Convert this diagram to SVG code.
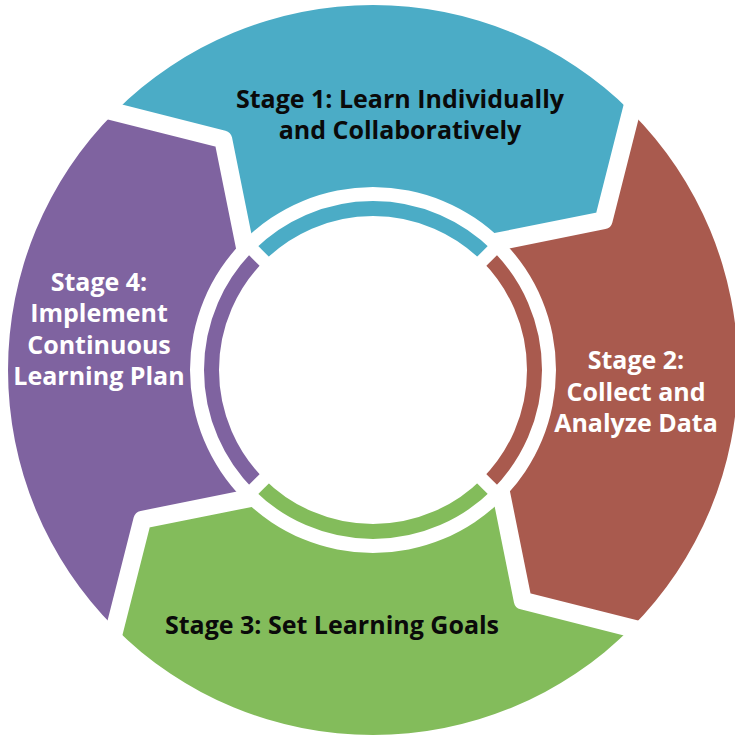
<svg xmlns="http://www.w3.org/2000/svg" width="735" height="739" viewBox="0 0 735 739">
<style>
.gap{fill:none;stroke:#fff;stroke-width:18;stroke-linejoin:round}
.rgap{fill:none;stroke:#fff;stroke-width:13}
.ring{fill:none;stroke-width:15}
.lbl{font-family:"Open Sans","Noto Sans",sans-serif;font-weight:700;font-size:25px;text-anchor:middle}
.dark{fill:#0a0a0a}
.light{fill:#fff}
</style>
<rect width="735" height="739" fill="#fff"/>
<g id="stage1">
<path d="M114.91,111.91 A365,365 0 0 1 631.09,111.91 L603.63,220.22 L502.40,240.60 A183,183 0 0 0 243.60,240.60 L223.22,139.37 Z" fill="#4BACC6"/>
<path class="ring" stroke="#4BACC6" d="M258.80,255.80 A161.5,161.5 0 0 1 487.20,255.80"/>
<text class="lbl dark" x="400" y="107.5">Stage 1: Learn Individually</text>
<text class="lbl dark" x="400" y="139">and Collaboratively</text>
</g>
<g id="stage2">
<path d="M631.09,111.91 A365,365 0 0 1 631.09,628.09 L522.78,600.63 L502.40,499.40 A183,183 0 0 0 502.40,240.60 L603.63,220.22 Z" fill="#A95A4E"/>
<path class="ring" stroke="#A95A4E" d="M487.20,255.80 A161.5,161.5 0 0 1 487.20,484.20"/>
<text class="lbl light" x="636" y="369">Stage 2:</text>
<text class="lbl light" x="636" y="400.5">Collect and</text>
<text class="lbl light" x="636" y="432">Analyze Data</text>
</g>
<g id="stage3">
<path d="M631.09,628.09 A365,365 0 0 1 114.91,628.09 L142.37,519.78 L243.60,499.40 A183,183 0 0 0 502.40,499.40 L522.78,600.63 Z" fill="#83BC5B"/>
<path class="ring" stroke="#83BC5B" d="M487.20,484.20 A161.5,161.5 0 0 1 258.80,484.20"/>
<text class="lbl dark" x="332" y="634">Stage 3: Set Learning Goals</text>
</g>
<g id="stage4">
<path d="M114.91,628.09 A365,365 0 0 1 114.91,111.91 L223.22,139.37 L243.60,240.60 A183,183 0 0 0 243.60,499.40 L142.37,519.78 Z" fill="#7F63A0"/>
<path class="ring" stroke="#7F63A0" d="M258.80,484.20 A161.5,161.5 0 0 1 258.80,255.80"/>
<text class="lbl light" x="99" y="290.5">Stage 4:</text>
<text class="lbl light" x="99" y="322">Implement</text>
<text class="lbl light" x="99" y="353.5">Continuous</text>
<text class="lbl light" x="99" y="385">Learning Plan</text>
</g>
<g id="connectors">
<polyline class="gap" points="633.84,101.08 603.63,220.22 492.28,242.64"/>
<polyline class="gap" points="641.92,630.84 522.78,600.63 500.36,489.28"/>
<polyline class="gap" points="112.16,638.92 142.37,519.78 253.72,497.36"/>
<polyline class="gap" points="104.08,109.16 223.22,139.37 245.64,250.72"/>
<line class="rgap" x1="475.53" y1="267.47" x2="497.45" y2="245.55"/>
<line class="rgap" x1="475.53" y1="472.53" x2="497.45" y2="494.45"/>
<line class="rgap" x1="270.47" y1="472.53" x2="248.55" y2="494.45"/>
<line class="rgap" x1="270.47" y1="267.47" x2="248.55" y2="245.55"/>
</g>
</svg>
